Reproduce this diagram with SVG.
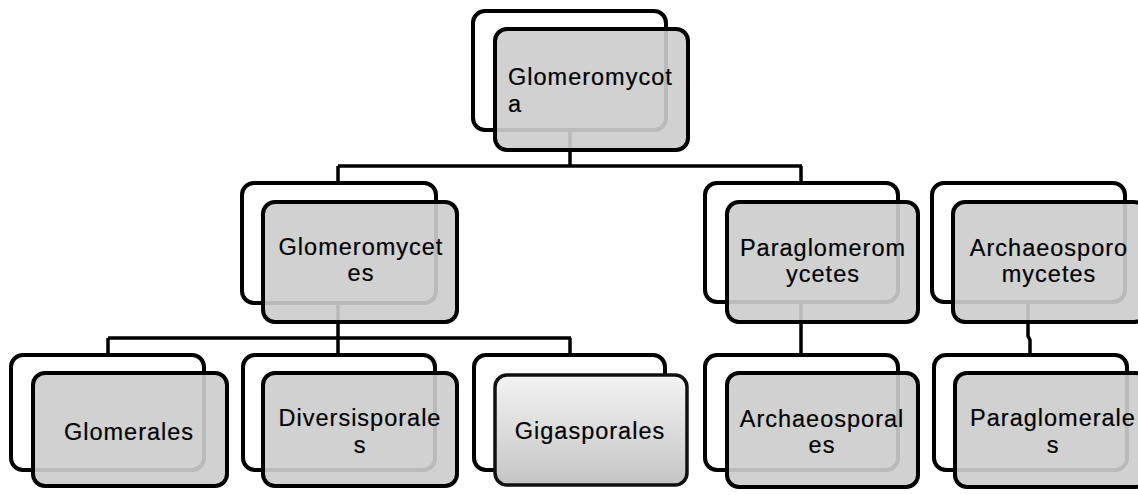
<svg xmlns="http://www.w3.org/2000/svg" width="1138" height="495" viewBox="0 0 1138 495">
  <style>
    .back { fill: #ffffff; stroke: #000000; stroke-width: 4; }
    .front { fill: #cccccc; fill-opacity: 0.91; stroke: #000000; stroke-width: 4; }
    .front-grad { fill: url(#gigaFill); stroke: #111111; stroke-width: 3.5; }
    .lbl { font-family: "Liberation Sans", Arial, sans-serif; font-size: 23.5px; letter-spacing: 1px; fill: #000000; stroke: #000000; stroke-width: 0.2; text-anchor: middle; }
    .lbl-left { text-anchor: start; }
    .conn { fill: none; stroke: #000000; stroke-width: 3.5; }
  </style>
  <defs>
    <linearGradient id="gigaFill" x1="0" y1="0" x2="0" y2="1">
      <stop offset="0" stop-color="#f4f4f4"/>
      <stop offset="1" stop-color="#c4c4c4"/>
    </linearGradient>
  </defs>

  <rect width="1138" height="495" fill="#ffffff"/>

  <!-- tree connectors -->
  <g id="connectors">
    <path class="conn" d="M570 130 V166 M338 166 H802 M338 166 V183 M801 166 V183"/>
    <path class="conn" d="M338 303 V355 M108 338 H571 M108 338 V355 M570 338 V355"/>
    <path class="conn" d="M801 302 V355"/>
    <path class="conn" d="M1028 302 V336 L1030 340 V355"/>
  </g>

  <g id="node-glomeromycota">
    <rect class="back" x="473" y="11" width="193" height="119" rx="12"/>
    <rect class="front" x="495" y="29" width="193" height="121" rx="12"/>
    <text class="lbl lbl-left" x="508" y="85">Glomeromycot</text>
    <text class="lbl lbl-left" x="508" y="112">a</text>
  </g>

  <g id="node-glomeromycetes">
    <rect class="back" x="242" y="183" width="194" height="120" rx="12"/>
    <rect class="front" x="263" y="202" width="194" height="120" rx="12"/>
    <text class="lbl" x="361" y="255">Glomeromycet</text>
    <text class="lbl" x="361" y="281">es</text>
  </g>

  <g id="node-paraglomeromycetes">
    <rect class="back" x="705" y="183" width="193" height="119" rx="12"/>
    <rect class="front" x="727" y="202" width="191" height="120" rx="12"/>
    <text class="lbl" x="823" y="256">Paraglomerom</text>
    <text class="lbl" x="823" y="282">ycetes</text>
  </g>

  <g id="node-archaeosporomycetes">
    <rect class="back" x="932" y="183" width="193" height="119" rx="12"/>
    <rect class="front" x="953" y="202" width="193" height="120" rx="12"/>
    <text class="lbl" x="1049" y="256">Archaeosporo</text>
    <text class="lbl" x="1049" y="282">mycetes</text>
  </g>

  <g id="node-glomerales">
    <rect class="back" x="11" y="355" width="193" height="115" rx="12"/>
    <rect class="front" x="33" y="373" width="194" height="113" rx="12"/>
    <text class="lbl" x="129" y="440">Glomerales</text>
  </g>

  <g id="node-diversisporales">
    <rect class="back" x="243" y="355" width="192" height="115" rx="12"/>
    <rect class="front" x="263" y="373" width="194" height="113" rx="12"/>
    <text class="lbl" x="360" y="426">Diversisporale</text>
    <text class="lbl" x="360" y="453">s</text>
  </g>

  <g id="node-gigasporales">
    <rect class="back" x="474" y="355" width="191" height="115" rx="12"/>
    <rect class="front-grad" x="495" y="375" width="192" height="110" rx="12"/>
    <text class="lbl" x="590" y="439">Gigasporales</text>
  </g>

  <g id="node-archaeosporales">
    <rect class="back" x="705" y="355" width="193" height="115" rx="12"/>
    <rect class="front" x="727" y="373" width="191" height="114" rx="12"/>
    <text class="lbl" x="822" y="427">Archaeosporal</text>
    <text class="lbl" x="822" y="453">es</text>
  </g>

  <g id="node-paraglomerales">
    <rect class="back" x="934" y="355" width="193" height="115" rx="12"/>
    <rect class="front" x="955" y="373" width="193" height="114" rx="12"/>
    <text class="lbl" x="1053" y="426">Paraglomerale</text>
    <text class="lbl" x="1053" y="453">s</text>
  </g>
</svg>
